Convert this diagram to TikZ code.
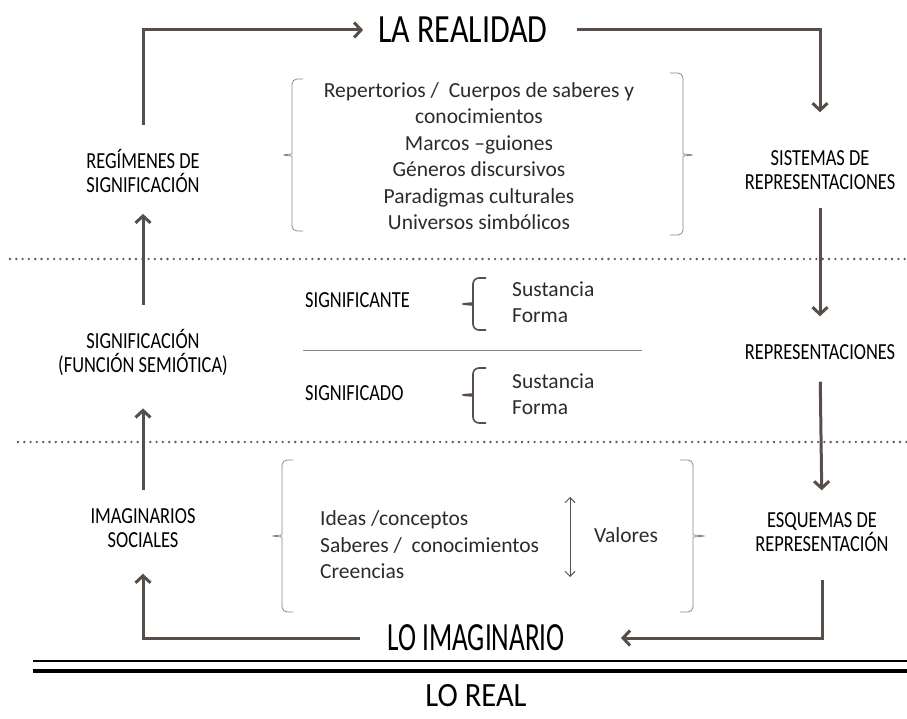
\documentclass[tikz,border=0pt]{standalone}
\usepackage{fontspec}
\setmainfont{Carlito}
\newfontfamily\narrowfont[FakeStretch=0.8]{Carlito}
\newfontfamily\tallfont[FakeStretch=0.68]{Carlito}
\usetikzlibrary{positioning,arrows.meta}
\definecolor{flowgray}{HTML}{574E49}
\definecolor{bracegray}{HTML}{8C8683}
\definecolor{dotgray}{HTML}{5E5754}
\definecolor{bodytext}{HTML}{2B2B2B}

\begin{document}
\begin{tikzpicture}[x=1pt,y=-1pt,
                    flow/.style={draw=flowgray,line width=3pt,
                                 -{Straight Barb[length=7pt,width=15pt]}},
                    caps/.style={font=\narrowfont\fontsize{23}{24}\selectfont,
                                 align=center,inner sep=2pt},
                    title/.style={font=\narrowfont\fontsize{40}{42}\selectfont,
                                  inner sep=1pt},
                    body/.style={font=\fontsize{21.5}{26.5}\selectfont,
                                 text=bodytext,inner sep=2pt},
                    bracket/.style={draw=bracegray,line width=0.8pt,rounded corners=5pt},
                    curly/.style={draw=flowgray,line width=1.6pt,rounded corners=6pt},
                    dotline/.style={draw=dotgray,line width=2.6pt,line cap=round,
                                    dash pattern=on 0pt off 6.3pt}
                   ]
   \useasboundingbox (0,0) rectangle (907,719);

   % levels
   \node[title] (realidad)   at (463,30)  {LA REALIDAD};
   \node[title,font=\tallfont\fontsize{40}{42}\selectfont] (imaginario) at (476,638) {LO IMAGINARIO};
   \node[title,font=\fontsize{34}{36}\selectfont\addfontfeature{FakeStretch=0.9}] (real) at (476,696) {LO REAL};

   % left column
   \node[caps] (regimenes)    at (143,171) {REGÍMENES DE\\SIGNIFICACIÓN};
   \node[caps] (significacion) at (143,352) {SIGNIFICACIÓN\\(FUNCIÓN SEMIÓTICA)};
   \node[caps] (imaginarios)  at (143,528) {IMAGINARIOS\\SOCIALES};

   % right column
   \node[caps] (sistemas)         at (820,170) {SISTEMAS DE\\REPRESENTACIONES};
   \node[caps] (representaciones) at (820,352) {REPRESENTACIONES};
   \node[caps] (esquemas)         at (822,532) {ESQUEMAS DE\\REPRESENTACIÓN};

   % middle
   \node[body,align=center] (repertorios) at (479,156)
      {Repertorios /\ \ Cuerpos de saberes y\\conocimientos\\Marcos –guiones\\
       Géneros discursivos\\Paradigmas culturales\\Universos simbólicos};
   \node[caps,anchor=west] (significante) at (303,300) {SIGNIFICANTE};
   \node[body,align=left,anchor=west] (planos1) at (510,302) {Sustancia\\Forma};
   \node[caps,anchor=west] (significado) at (303,393) {SIGNIFICADO};
   \node[body,align=left,anchor=west] (planos2) at (510,394) {Sustancia\\Forma};
   \node[body,align=left,anchor=west] (ideas) at (318,545)
      {Ideas /conceptos\\Saberes /\ \ conocimientos\\Creencias};
   \node[body] (valores) at (626,535) {Valores};
   \coordinate (vtop) at (570,497);
   \coordinate (vbot) at (570,577);

   % separators
   \draw[dotline] (10,259) -- (907,259);
   \draw[dotline] (18,442) -- (907,442);
   \draw[draw=bracegray,line width=0.8pt] (303,350) -- (642,350);
   \draw[line width=1.5pt] (33,661) -- (907,661);
   \draw[line width=3.5pt] (33,671) -- (907,671);

   % brackets
   \draw[bracket] (303,79) -| (292,149) .. controls (292,154) .. (281,155)
                  .. controls (292,156) .. (292,161) |- (303,231);
   \draw[bracket] (670,73) -| (683,149) .. controls (683,154) .. (695,155)
                  .. controls (683,156) .. (683,161) |- (670,235);
   \draw[bracket] (293,460) -| (282,530) .. controls (282,535) .. (270,536)
                  .. controls (282,537) .. (282,542) |- (293,612);
   \draw[bracket] (680,460) -| (693,530) .. controls (693,535) .. (707,536)
                  .. controls (693,537) .. (693,542) |- (680,612);
   \draw[curly] (486,278) -| (473,298) .. controls (473,303) .. (460,304)
                .. controls (473,305) .. (473,310) |- (486,330);
   \draw[curly] (486,368) -| (473,389) .. controls (473,394) .. (460,395)
                .. controls (473,396) .. (473,401) |- (486,423);
   \draw[draw=flowgray,line width=1pt,
         {Straight Barb[length=5pt,width=10pt]}-{Straight Barb[length=5pt,width=10pt]}]
        (vtop) -- (vbot);

   % cycle
   \draw[flow,shorten <=22pt,shorten >=14pt] (regimenes.north) |- (realidad.west);
   \draw[flow,shorten <=28pt,shorten >=36pt] (realidad.east) -| (sistemas.north);
   \draw[flow,shorten <=16pt,shorten >=26pt] (sistemas.south) -- (representaciones.north);
   \draw[flow,shorten <=20pt,shorten >=20pt] (representaciones.south) -- (esquemas.north);
   \draw[flow,shorten <=26pt,shorten >=55pt] (esquemas.south) |- (imaginario.east);
   \draw[flow,shorten <=26pt,shorten >=24pt] (imaginario.west) -| (imaginarios.south);
   \draw[flow,shorten <=16pt,shorten >=31pt] (imaginarios.north) -- (significacion.south);
   \draw[flow,shorten <=22pt,shorten >=19pt] (significacion.north) -- (regimenes.south);
\end{tikzpicture}
\end{document}
